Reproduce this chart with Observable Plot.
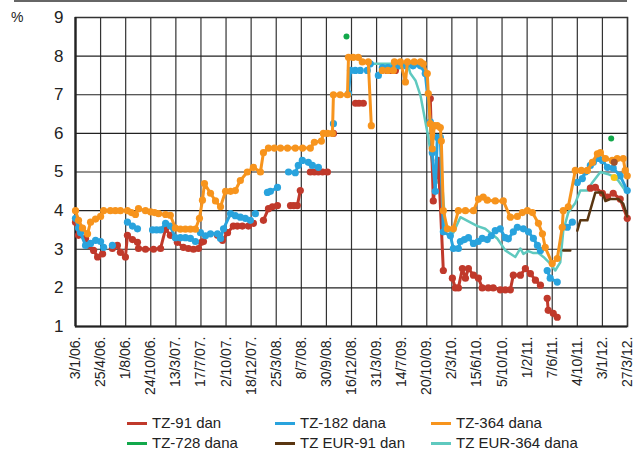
<!DOCTYPE html>
<html>
<head>
<meta charset="utf-8">
<script src="https://cdn.jsdelivr.net/npm/d3@7"></script>
<script src="https://cdn.jsdelivr.net/npm/@observablehq/plot@0.6"></script>
<style>
  html, body { margin: 0; padding: 0; background: #fff; }
  #wrap { position: relative; width: 640px; height: 452px; font-family: "Liberation Sans", Arial, sans-serif; color: #222; }
  #rule { position: absolute; left: 14px; top: 0px; width: 613px; border-top: 2px solid #666; }
  #pct { position: absolute; left: 11px; top: 9px; font-size: 14px; }
  #chart { position: absolute; left: 0; top: 0; }
  .leg { position: absolute; font-size: 15px; white-space: nowrap; line-height: 20px; }
  .leg .sw { display: inline-block; width: 20px; height: 3px; vertical-align: middle; margin-right: 5px; position: relative; top: -1px; }
</style>
</head>
<body>
<div id="wrap">
  <div id="rule"></div>
  <div id="chart"></div>
  <div id="pct">%</div>
  <div id="legend"></div>
</div>
<script>
// Tick labels of the category axis (auction dates)
const xLabels = ["3/1/06.", "25/4/06.", "1/8/06.", "24/10/06.", "13/3/07.", "17/7/07.", "2/10/07.", "18/12/07.", "25/3/08.", "8/7/08.", "30/9/08.", "16/12/08.", "31/3/09.", "14/7/09.", "20/10/09.", "2/3/10.", "15/6/10.", "5/10/10.", "1/2/11.", "7/6/11.", "4/10/11.", "3/1/12.", "27/3/12."];
const yTicks = [1, 2, 3, 4, 5, 6, 7, 8, 9];

const seriesNames = ["TZ-91 dan", "TZ-182 dana", "TZ-364 dana", "TZ-728 dana", "TZ EUR-91 dan", "TZ EUR-364 dana"];
const seriesColors = ["#c0392b", "#29a3dd", "#f7941d", "#12a84b", "#5a3611", "#5fc9bf"];

// [position on category axis, yield %]; null = gap
const tz91 = [[0,3.7],[0.12,3.36],[0.4,3.28],[0.52,3.1],[0.72,2.97],[0.88,2.8],[1.08,2.88],null,[1.47,3.02],[1.67,3.1],[1.79,2.92],[1.99,2.8],[2.07,3.36],[2.27,3.25],[2.47,3.18],[2.51,3.02],[2.79,3.0],[3.11,3.0],[3.39,3.02],[3.59,3.53],[3.78,3.36],[4.06,3.18],[4.3,3.05],[4.5,3.02],[4.7,3.0],[4.9,3.02],[5.02,3.18],[5.1,3.2],null,[5.66,3.36],[5.86,3.23],[6.06,3.43],[6.29,3.6],[6.45,3.6],[6.65,3.6],null,[6.89,3.6],[7.09,3.67],null,[7.49,3.75],[7.69,4.05],[7.85,4.1],[8.05,4.13],null,[8.57,4.13],[8.7,4.13],[8.84,4.13],[8.96,4.52],null,[9.36,5.0],[9.52,5.0],[9.68,5.0],[9.85,5.0],[10.04,5.0],null,[10.28,6.0],null,[11.16,6.78],[11.3,6.78],[11.47,6.78],null,[12.43,7.63],[12.6,7.63],[12.75,7.63],null,[14.14,6.9],[14.26,4.25],[14.46,5.3],[14.66,2.45],null,[15.02,2.25],[15.14,2.0],[15.26,2.0],[15.42,2.5],[15.54,2.25],[15.66,2.5],[15.86,2.33],[16.06,2.25],[16.21,2.0],[16.45,2.0],[16.65,2.0],[16.93,1.95],[17.13,1.95],[17.33,1.95],[17.45,2.33],[17.73,2.33],[17.93,2.5],[18.13,2.37],[18.33,2.2],[18.53,2.07],null,[18.8,1.73],[18.84,1.42],[19.04,1.34],[19.2,1.24],null,[20.52,4.58],[20.72,4.6],[21.0,4.45],[21.2,4.35],[21.43,4.45],[21.71,4.3],[21.99,3.8]];

const tz182 = [[0,3.8],[0.12,3.55],[0.2,3.43],[0.4,3.1],[0.6,3.15],[0.8,3.23],[1.0,3.2],[1.12,3.05],null,[1.47,3.1],null,[2.07,3.7],[2.27,3.6],[2.47,3.53],null,[3.07,3.5],[3.23,3.5],[3.39,3.5],[3.59,3.67],[3.78,3.6],[3.98,3.3],[4.18,3.3],[4.38,3.3],[4.58,3.28],[4.78,3.2],null,[4.98,3.43],[5.18,3.35],[5.38,3.4],[5.66,3.4],[5.78,3.28],[5.9,3.53],[6.18,3.92],[6.37,3.87],[6.57,3.83],[6.77,3.8],[6.97,3.75],null,[7.17,3.92],null,[7.65,4.47],[7.77,4.5],[8.05,4.6],null,[8.49,5.0],[8.76,4.98],[8.88,5.17],[9.04,5.3],null,[9.28,5.25],[9.44,5.17],[9.68,5.12],null,[10.28,6.25],null,[10.88,7.03],[10.96,7.63],[11.15,7.63],[11.35,7.63],null,[11.63,7.63],[11.75,7.8],null,[12.07,7.5],[12.23,7.7],[12.45,7.7],[12.67,7.7],[12.9,7.75],[13.15,7.75],[13.45,7.75],[13.75,7.75],[13.94,7.55],[14.14,6.3],[14.22,5.5],[14.34,4.5],[14.42,5.9],[14.54,5.9],[14.66,3.45],[14.94,3.35],[15.06,3.02],[15.26,3.02],[15.34,3.2],[15.5,3.25],[15.66,3.3],[15.86,3.15],[16.05,3.2],[16.21,3.28],[16.41,3.25],[16.57,3.35],[16.73,3.48],[16.93,3.53],[17.13,3.3],[17.25,3.27],[17.45,3.45],[17.61,3.57],[17.85,3.53],[18.05,3.45],[18.25,3.28],[18.41,3.1],[18.53,2.97],null,[18.8,2.45],[18.92,2.25],[19.2,2.15],null,[19.6,3.57],[19.8,3.7],null,[20.0,4.73],[20.2,4.83],[20.32,5.0],[20.52,5.17],[20.64,5.25],[20.84,5.35],[21.0,5.3],[21.2,5.12],[21.43,5.1],[21.71,4.9],[21.99,4.52]];

const tz364 = [[0,4.0],[0.12,3.75],[0.28,3.55],[0.48,3.4],[0.6,3.7],[0.8,3.78],[1.0,3.85],[1.12,4.0],[1.39,4.0],[1.59,4.0],[1.79,4.0],[2.07,4.0],[2.23,3.95],[2.39,3.9],[2.51,4.05],[2.79,4.0],[2.99,3.97],[3.15,3.95],[3.31,3.92],[3.59,3.9],[3.78,3.88],[3.98,3.55],[4.18,3.52],[4.38,3.52],[4.58,3.52],[4.78,3.52],[4.94,3.8],[5.06,4.27],[5.14,4.7],[5.38,4.45],[5.58,4.25],[5.78,4.1],[5.98,4.5],[6.18,4.5],[6.37,4.52],[6.57,4.78],[6.85,5.0],[7.09,5.12],[7.37,5.0],[7.49,5.5],[7.69,5.62],[7.93,5.62],[8.17,5.62],[8.45,5.62],[8.76,5.62],[9.05,5.62],[9.36,5.62],[9.52,5.77],[9.8,5.8],[9.88,6.0],[10.05,6.0],[10.24,6.0],[10.28,7.0],[10.55,7.0],[10.84,7.0],[10.88,7.97],[11.07,7.97],[11.27,7.97],[11.43,7.85],[11.67,7.85],[11.79,6.2],null,[12.23,7.63],[12.45,7.63],[12.67,7.63],[12.71,7.85],[12.95,7.85],[13.15,7.33],[13.23,7.85],[13.5,7.85],[13.75,7.85],[13.86,7.8],[14.02,7.55],[14.06,7.03],[14.14,6.25],[14.22,5.6],[14.3,6.2],[14.42,6.2],[14.54,6.15],[14.58,5.8],[14.66,4.0],[14.82,3.53],[15.06,3.53],[15.26,4.0],[15.54,4.0],[15.86,4.0],[16.06,4.3],[16.25,4.35],[16.41,4.27],[16.73,4.25],[17.05,4.25],[17.33,3.83],[17.61,3.85],[17.81,3.95],[18.01,4.0],[18.21,3.95],[18.45,3.67],[18.61,3.4],[18.72,3.05],[19.0,2.63],[19.2,2.76],[19.4,3.57],[19.44,4.0],[19.64,4.1],[19.92,5.04],[20.16,5.04],[20.4,5.04],[20.6,5.25],[20.8,5.47],[20.92,5.5],[21.12,5.35],[21.39,5.3],[21.59,5.35],[21.83,5.35],[21.91,5.04],[21.99,4.9]];

const tz728 = [[10.8,8.51],[21.35,5.87]];

const eur91 = [[19.44,2.97],[19.72,2.97],null,[20.0,3.48],[20.12,3.75],[20.4,3.75],[20.6,4.2],[20.72,4.47],[21.0,4.47],[21.12,4.25],[21.31,4.3],[21.63,4.3],[21.83,4.18],[21.99,3.85]];

const eur364 = [[11.63,7.8],[12.15,7.8],[12.75,7.8],[13.23,7.8],[13.35,7.55],[13.55,7.37],[13.75,6.98],[13.86,6.6],[14.06,5.9],[14.22,5.22],[14.3,4.73],[14.46,4.73],[14.58,5.0],[14.74,3.6],[14.94,3.45],[15.06,3.43],[15.34,3.83],[16.02,3.6],[16.33,3.53],[16.81,3.28],[17.13,2.97],[17.53,2.8],[17.73,3.02],[17.85,2.88],[18.05,2.95],[18.25,2.9],[18.45,2.9],[18.65,2.8],[18.92,2.63],[19.12,2.45],[19.32,2.66],[19.44,3.48],[19.64,3.95],[19.92,4.2],[20.12,4.52],[20.4,4.52],[20.6,4.73],[20.92,5.0],[21.2,4.95],[21.39,4.9],[21.63,4.78],[21.91,4.52]];

// two stray unlabelled points near the end
const otherPoints = [[21.47,4.86,"#f5c518"],[21.47,5.25,"#a0522d"]];

const rows = (arr) => arr.map(d => d ? {x: d[0], y: d[1]} : {x: NaN, y: NaN});

const font = '"Liberation Sans", Arial, sans-serif';

const chart = Plot.plot({
  width: 640,
  height: 406,
  marginLeft: 75,
  marginRight: 13,
  marginTop: 17,
  marginBottom: 80,
  style: {fontFamily: font, color: "#222", background: "transparent"},
  x: {domain: [0, 22]},
  y: {domain: [1, 9]},
  marks: [
    Plot.gridX(d3.range(xLabels.length), {stroke: "#333", strokeOpacity: 1, strokeWidth: 1.2}),
    Plot.gridY(yTicks, {stroke: "#222", strokeOpacity: 1, strokeWidth: 1.2}),
    Plot.frame({stroke: "#333", strokeWidth: 1.5}),
    Plot.ruleX([0], {stroke: "#222", strokeWidth: 2.2}),
    Plot.ruleY([1], {stroke: "#222", strokeWidth: 2.2}),
    Plot.axisX(d3.range(xLabels.length), {tickFormat: i => xLabels[i], tickRotate: -90, tickSize: 0, tickPadding: 10, fontSize: 14, label: null}),
    Plot.axisY(yTicks, {tickSize: 0, tickPadding: 12, fontSize: 17, label: null}),
    Plot.line(rows(eur364), {x: "x", y: "y", stroke: seriesColors[5], strokeWidth: 2.5}),
    Plot.line(rows(tz91), {x: "x", y: "y", stroke: seriesColors[0], strokeWidth: 3}),
    Plot.dot(rows(tz91), {x: "x", y: "y", fill: seriesColors[0], r: 3.6}),
    Plot.line(rows(tz182), {x: "x", y: "y", stroke: seriesColors[1], strokeWidth: 3}),
    Plot.dot(rows(tz182), {x: "x", y: "y", fill: seriesColors[1], r: 3.6}),
    Plot.line(rows(tz364), {x: "x", y: "y", stroke: seriesColors[2], strokeWidth: 3}),
    Plot.dot(rows(tz364), {x: "x", y: "y", fill: seriesColors[2], r: 3.6}),
    Plot.line(rows(eur91), {x: "x", y: "y", stroke: seriesColors[4], strokeWidth: 2.5}),
    Plot.dot(rows(tz728), {x: "x", y: "y", fill: seriesColors[3], r: 3}),
    Plot.dot(otherPoints, {x: d => d[0], y: d => d[1], fill: d => d[2], r: 3.5})
  ]
});
document.getElementById("chart").appendChild(chart);

// legend: 3 columns x 2 rows
const legCols = [127, 275, 431];
const legRows = [413, 433];
const leg = document.getElementById("legend");
seriesNames.forEach((name, i) => {
  const el = document.createElement("div");
  el.className = "leg";
  el.style.left = legCols[i % 3] + "px";
  el.style.top = legRows[Math.floor(i / 3)] + "px";
  el.innerHTML = `<span class="sw" style="background:${seriesColors[i]}"></span>${name}`;
  leg.appendChild(el);
});
</script>
</body>
</html>
